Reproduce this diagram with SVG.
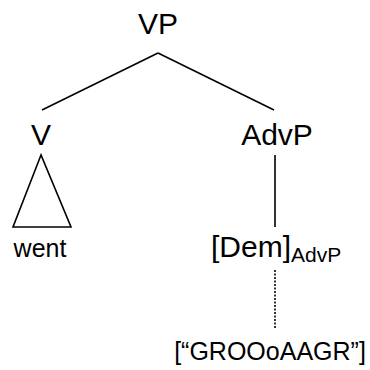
<svg xmlns="http://www.w3.org/2000/svg" width="370" height="370" viewBox="0 0 370 370">
<style>
text{font-family:"Liberation Sans",Arial,sans-serif;fill:#000}
.big{font-size:30px}
line,polygon{stroke:#000;stroke-width:1.6;fill:none}
</style>
<rect width="370" height="370" fill="#fff"/>
<g id="connectors">
<line x1="158" y1="53" x2="42" y2="110"/>
<line x1="158" y1="53" x2="274" y2="110"/>
<line x1="275" y1="155" x2="275" y2="227"/>
<line x1="275" y1="270" x2="275" y2="329" stroke-dasharray="2,1.5"/>
</g>
<g id="VP"><text class="big" x="158" y="34" text-anchor="middle">VP</text></g>
<g id="V"><text class="big" x="41" y="145" text-anchor="middle">V</text>
<polygon points="41,155 13,227 71,227"/></g>
<g id="went"><text x="40" y="257" font-size="25" text-anchor="middle">went</text></g>
<g id="AdvP"><text class="big" x="277" y="145" text-anchor="middle">AdvP</text></g>
<g id="Dem"><text class="big" x="211" y="257">[Dem]<tspan font-size="21" dy="5">AdvP</tspan></text></g>
<g id="GROO"><text x="270" y="360" font-size="25" text-anchor="middle">[“GROOoAAGR”]</text></g>
</svg>
